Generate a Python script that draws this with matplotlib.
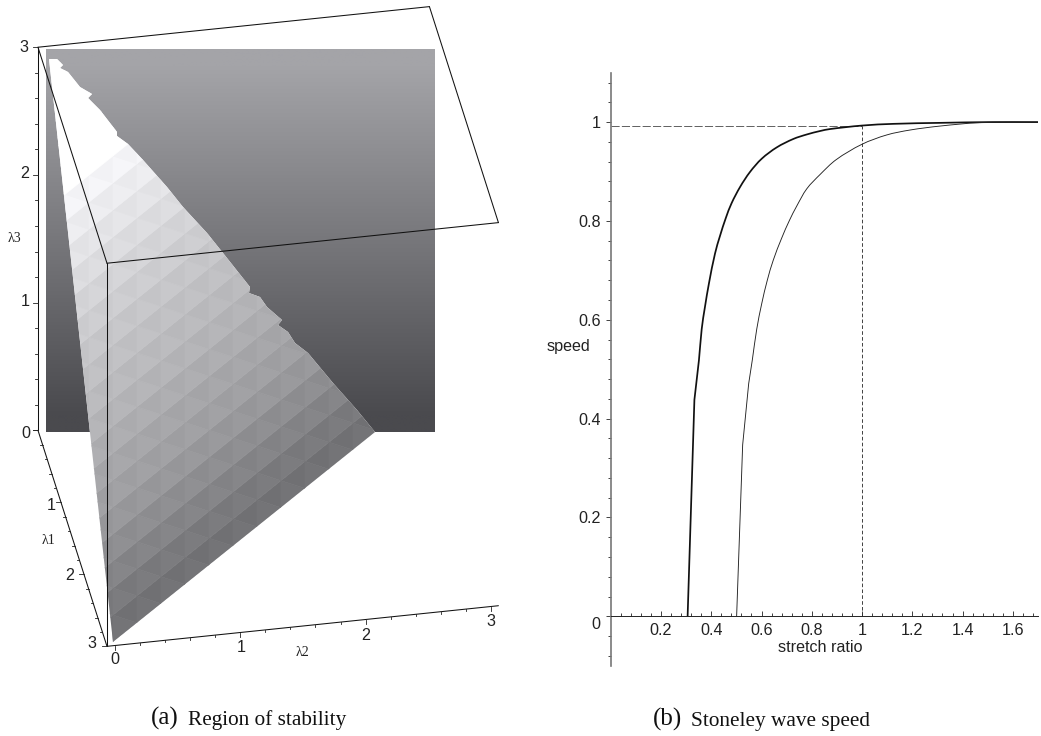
import numpy as np
import matplotlib
matplotlib.use("Agg")
import matplotlib.pyplot as plt
from matplotlib.collections import PolyCollection
from matplotlib.patches import Polygon, PathPatch
from matplotlib.path import Path
from matplotlib.transforms import ScaledTranslation

W, H = 1041, 736
SANS = "Liberation Sans"
SERIF = "Liberation Serif"

# ---------- panel (b) data ----------
thick_x = [0.306, 0.333, 0.351, 0.362, 0.375, 0.391, 0.415, 0.435, 0.458, 0.481, 0.515, 0.554, 0.601,
           0.661, 0.727, 0.780, 0.833, 0.873, 0.999, 1.125, 1.310, 1.500, 1.700]
thick_y = [0.000, 0.438, 0.518, 0.581, 0.626, 0.674, 0.734, 0.770, 0.806, 0.836, 0.869, 0.899, 0.926,
           0.949, 0.966, 0.975, 0.982, 0.986, 0.993, 0.9965, 0.9985, 1.000, 1.000]
thick_kinks = 2
thin_x = [0.501, 0.525, 0.549, 0.5635, 0.581, 0.601, 0.623, 0.647, 0.680, 0.711, 0.740, 0.780, 0.833,
          0.897, 0.999, 1.098, 1.191, 1.310, 1.470, 1.700]
thin_y = [0.000, 0.347, 0.471, 0.519, 0.581, 0.633, 0.680, 0.721, 0.765, 0.801, 0.830, 0.865, 0.894,
          0.924, 0.955, 0.974, 0.984, 0.992, 0.999, 1.000]
thin_kinks = 3
ref_x = 1.0
ref_y = 0.993
b_major_x = [0.2, 0.4, 0.6, 0.8, 1.0, 1.2, 1.4, 1.6]
b_major_x_labels = ["0.2", "0.4", "0.6", "0.8", "1", "1.2", "1.4", "1.6"]
b_major_y = [0, 0.2, 0.4, 0.6, 0.8, 1.0]
b_major_y_labels = ["0", "0.2", "0.4", "0.6", "0.8", "1"]

wall_left, wall_right, wall_top, wall_bottom = 46, 435, 49, 432
wall_greys = [0xA4, 0x9B, 0x92, 0x89, 0x80, 0x77, 0x6E, 0x65, 0x5C, 0x53, 0x4A]

region_x = [49, 57, 63, 60, 68, 80, 92, 88, 100, 117, 117, 128, 143, 167, 183, 207, 223, 250, 249,
            260, 267, 282, 278, 288, 295, 308, 333, 357, 375, 113]
region_y = [59, 59, 65, 68, 72, 87, 94, 98, 110, 132, 136, 144, 160, 187, 207, 233, 253, 287, 293,
            297, 307, 320, 325, 332, 343, 353, 383, 410, 432, 642]
band_greys = [0x72, 0x7A, 0x84, 0x8E, 0x98, 0xA0, 0xA6, 0xAD, 0xB4, 0xBA, 0xC0, 0xC6, 0xCD, 0xD4, 0xDC, 0xE4,
              0xEC, 0xF4, 0xFF, 0xFF, 0xFF, 0xFF, 0xFF, 0xFF, 0xFF, 0xFF]
facet_shift = [2, -2]

box_l1 = [0, 3]
box_l2 = [-0.064, 3.06]
box_l3 = [0, 3]
major_ticks = [0, 1, 2, 3]
minor_ticks = [0.2, 0.4, 0.6, 0.8, 1.2, 1.4, 1.6, 1.8, 2.2, 2.4, 2.6, 2.8]
l3_label_pos = [(26, 434), (25, 301), (25, 174), (24, 47)]
l1_label_pos = [(51, 505), (70, 575), (92, 644)]
l2_label_pos = [(115, 660), (241, 647), (366, 635), (491, 621)]

# ---------- projection of the 3-D box onto the page ----------
ORIGIN = np.array([46.0, 429.5])
E1 = np.array([23.0, 72.0])
E2 = np.array([125.3, -13.0])
E3 = np.array([0.0, -127.7])


def proj(l1, l2, l3):
    return ORIGIN + l1 * E1 + l2 * E2 + l3 * E3


fig = plt.figure(figsize=(W / 100, H / 100), dpi=100, facecolor="white")
ax = fig.add_axes([0, 0, 1, 1])
ax.set_xlim(0, W)
ax.set_ylim(H, 0)
ax.axis("off")

# back wall
wall = np.array(wall_greys, dtype=float)
wall_rgb = np.stack([wall, wall, wall + 4], axis=-1)[:, None, :] / 255
ax.imshow(wall_rgb, aspect="auto", extent=(wall_left, wall_right, wall_bottom, wall_top),
          interpolation="bilinear", zorder=1)
ax.set_xlim(0, W)
ax.set_ylim(H, 0)

# faceted stability region
region = Polygon(np.column_stack([region_x, region_y]), closed=True, transform=ax.transData,
                 facecolor="white", edgecolor="none", zorder=2)
ax.add_patch(region)
start = np.array([113.0, 642.0])
U = np.array([24.0, -19.2])
V = np.array([0.0, -27.0])
polys, cols = [], []
for i, g in enumerate(band_greys):
    for j in range(-14, 18):
        p = start + j * U + i * V
        polys.append([p, p + U, p + V])
        cols.append(min(255, g + facet_shift[0]))
        polys.append([p + U, p + U + V, p + V])
        cols.append(min(255, g + facet_shift[1]) if g < 255 else 255)
rgb = [(c / 255, c / 255, min(c + 3, 255) / 255) for c in cols]
pc = PolyCollection(polys, facecolors=rgb, edgecolors=rgb, linewidths=0.4, zorder=3)
ax.add_collection(pc)
pc.set_clip_path(region)

# box
lk = dict(color="#111111", lw=0.75, zorder=5, solid_capstyle="round")
t00 = proj(box_l1[0], box_l2[0], box_l3[1])
t01 = proj(box_l1[0], box_l2[1], box_l3[1])
t11 = proj(box_l1[1], box_l2[1], box_l3[1])
t10 = proj(box_l1[1], box_l2[0], box_l3[1])
b00 = proj(box_l1[0], box_l2[0], box_l3[0])
b10 = proj(box_l1[1], box_l2[0], box_l3[0])
b11 = proj(box_l1[1], box_l2[1], box_l3[0])
for a, b in [(t00, t01), (t01, t11), (t11, t10), (t10, t00), (t10, b10), (b10, b11), (b00, t00), (b00, b10)]:
    ax.plot([a[0], b[0]], [a[1], b[1]], **lk)


def ticks(points, direction, length):
    for q in points:
        ax.plot([q[0], q[0] + direction[0] * length], [q[1], q[1] + direction[1] * length],
                color="#222222", lw=0.6, zorder=5)


off = box_l2[0]
ticks([proj(0, off, v) for v in major_ticks], (-1, 0), 5)
ticks([proj(0, off, v) for v in minor_ticks], (-1, 0), 2.5)
ticks([proj(v, off, 0) for v in major_ticks], (-1, 0), 5)
ticks([proj(v, off, 0) for v in minor_ticks], (-1, 0), 2.5)
ticks([proj(3, v, 0) for v in major_ticks], (0, 1), 4)
ticks([proj(3, v, 0) for v in minor_ticks], (0, 1), 2)

tick_txt = dict(family=SANS, fontsize=11.6, color="#222222", ha="center", va="center", zorder=6)
for v, (x, y) in zip(major_ticks, l3_label_pos):
    ax.text(x, y, str(v), **tick_txt)
for v, (x, y) in zip(major_ticks[1:], l1_label_pos):
    ax.text(x, y, str(v), **tick_txt)
for v, (x, y) in zip(major_ticks, l2_label_pos):
    ax.text(x, y, str(v), **tick_txt)

lam = dict(family=SERIF, fontsize=10, color="#222222", ha="center", va="center", zorder=6)
ax.text(14, 238, "λ3", **lam)
ax.text(49, 541, "λ1", **lam)
ax.text(302, 652, "λ2", **lam)

# captions
cap = dict(family=SERIF, color="#111111", ha="left", va="baseline")
ax.text(151, 725, "(a)", fontsize=18, **cap)
ax.text(188, 725, "Region of stability", fontsize=15.3, **cap)
ax.text(653, 726, "(b)", fontsize=18, **cap)
ax.text(691, 726, "Stoneley wave speed", fontsize=15.3, **cap)

# ---------- panel (b) ----------
L, R, T, B = 610.7, 1038.0, 72.7, 665.7
axb = fig.add_axes([L / W, 1 - B / H, (R - L) / W, (B - T) / H])
axb.patch.set_alpha(0)
axb.set_xlim(0, 1.7)
axb.set_ylim(-0.1, 1.1)
for s in ("top", "right"):
    axb.spines[s].set_visible(False)
axb.spines["left"].set_position(("data", 0))
axb.spines["left"].set_color("#777777")
axb.spines["left"].set_linewidth(1.2)
axb.spines["bottom"].set_position(("data", 0))
axb.spines["bottom"].set_color("#222222")
axb.spines["bottom"].set_linewidth(0.7)


def curve_path(xs, ys, kinks):
    """Straight through the first `kinks` points, then a smooth Bezier through the read points."""
    sx, sy = (R - L) / 1.7, (B - T) / 1.2
    pts = np.column_stack([xs, ys]) * [sx, sy]
    verts, codes = [pts[0]], [Path.MOVETO]
    for k in range(1, kinks + 1):
        verts.append(pts[k])
        codes.append(Path.LINETO)

    def tangent(i):
        a, b = pts[max(i - 1, 0)], pts[min(i + 1, len(pts) - 1)]
        d = b - a
        return d / np.hypot(*d)

    for i in range(kinks, len(pts) - 1):
        h = np.hypot(*(pts[i + 1] - pts[i])) / 3
        verts += [pts[i] + tangent(i) * h, pts[i + 1] - tangent(i + 1) * h, pts[i + 1]]
        codes += [Path.CURVE4] * 3
    return Path(np.array(verts) / [sx, sy], codes)


axb.add_patch(PathPatch(curve_path(thick_x, thick_y, thick_kinks), fill=False, edgecolor="#111111",
                        lw=1.25, zorder=3, joinstyle="round"))
axb.add_patch(PathPatch(curve_path(thin_x, thin_y, thin_kinks), fill=False, edgecolor="#222222",
                        lw=0.65, zorder=3, joinstyle="round"))
axb.plot([0, ref_x], [ref_y, ref_y], color="#555555", lw=0.65, dashes=(9, 2.5), zorder=2)
axb.plot([ref_x, ref_x], [0, ref_y], color="#333333", lw=0.65, dashes=(4, 2.5), zorder=2)

axb.set_xticks(b_major_x, b_major_x_labels)
axb.set_yticks(b_major_y, b_major_y_labels)
axb.set_xticks(np.arange(1, 43) * 0.04, minor=True)
axb.set_yticks(np.arange(-2, 28) * 0.04, minor=True)
axb.tick_params(axis="x", which="major", direction="in", length=3.5, width=0.6, color="#222222", pad=5,
                labelsize=11.6, labelcolor="#222222")
axb.tick_params(axis="x", which="minor", direction="in", length=2, width=0.6, color="#222222")
axb.tick_params(axis="y", which="major", direction="out", length=3.8, width=0.6, color="#222222", pad=3.5,
                labelsize=11.6, labelcolor="#222222")
axb.tick_params(axis="y", which="minor", direction="out", length=2, width=0.6, color="#222222")
for lab in axb.get_xticklabels() + axb.get_yticklabels():
    lab.set_family(SANS)
zero = axb.get_yticklabels()[0]
zero.set_transform(zero.get_transform() + ScaledTranslation(0, -7 / 100, fig.dpi_scale_trans))

axb.set_xlabel("stretch ratio", family=SANS, fontsize=11.6, color="#222222", va="center")
axb.xaxis.set_label_coords((820.5 - L) / (R - L), (B - 647) / (B - T))
axb.set_ylabel("speed", family=SANS, fontsize=11.6, color="#222222", rotation=0, ha="center", va="center")
axb.yaxis.set_label_coords((568 - L) / (R - L), (B - 346) / (B - T))

fig.savefig("out.png", dpi=100)
